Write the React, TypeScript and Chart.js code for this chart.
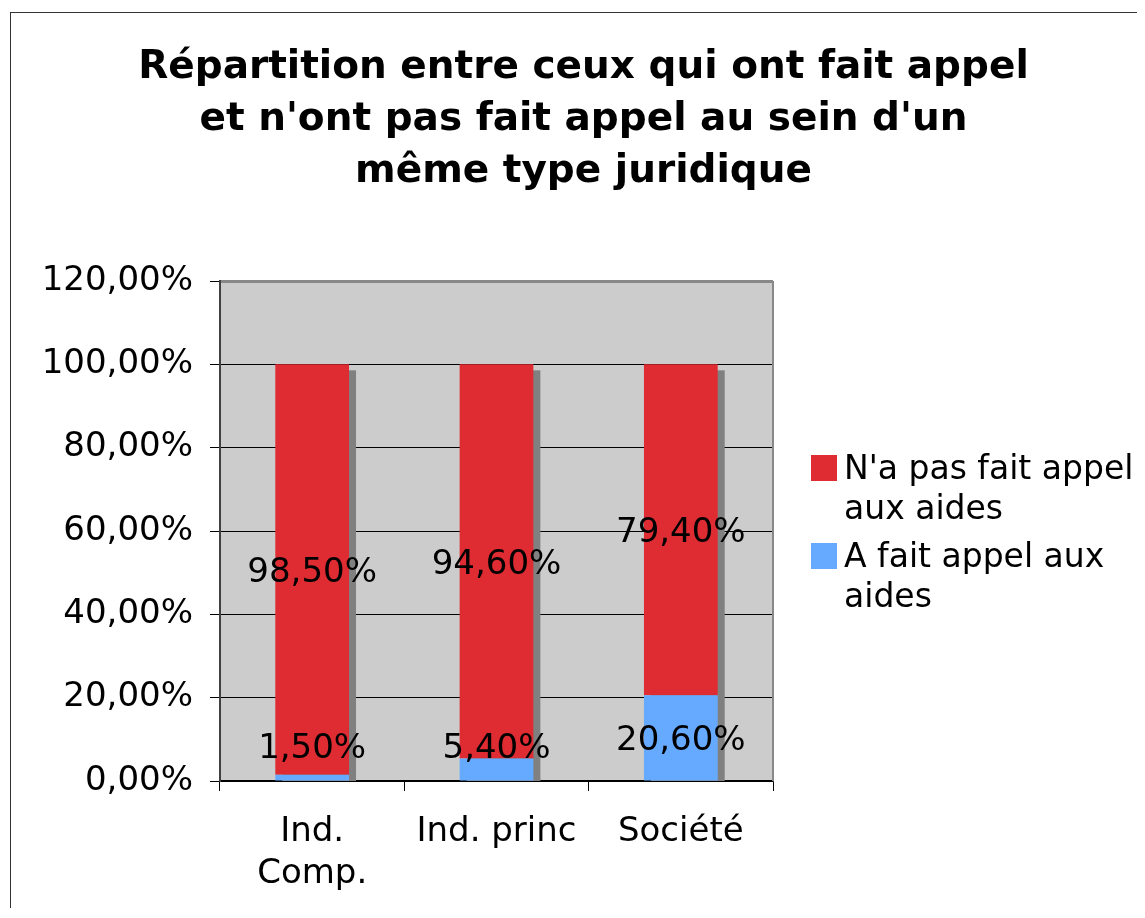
import React, { useEffect, useRef } from "react";
import { Chart, registerables } from "chart.js";

Chart.register(...registerables);

// ---- Data ----
const titleLines = [
  "Répartition entre ceux qui ont fait appel",
  "et n'ont pas fait appel au sein d'un",
  "même type juridique",
];
const categories: (string | string[])[] = [["Ind.", "Comp."], "Ind. princ", "Société"];
const seriesAppel = [1.5, 5.4, 20.6];
const seriesNonAppel = [98.5, 94.6, 79.4];
const labelAppel = "A fait appel aux aides";
const labelNonAppel = "N'a pas fait appel aux aides";
const yMin = 0;
const yMax = 120;
const yStep = 20;

// ---- Styles ----
const FONT = "'DejaVu Sans', Verdana, sans-serif";
const RED = "#de2c32";
const BLUE = "#66aaff";
const PLOT_BG = "#cccccc";
const SHADOW = "#808080";
const W = 1137;
const H = 900;
const TXT = 34;

const fmt = (v: number) => v.toFixed(2).replace(".", ",") + "%";

function wrap(ctx: CanvasRenderingContext2D, text: string, maxW: number): string[] {
  const words = text.split(" ");
  const lines: string[] = [];
  let cur = "";
  for (const w of words) {
    const test = cur ? cur + " " + w : w;
    if (ctx.measureText(test).width > maxW && cur) {
      lines.push(cur);
      cur = w;
    } else cur = test;
  }
  if (cur) lines.push(cur);
  return lines;
}

const decor = {
  id: "decor",
  beforeDraw(chart: any) {
    const { ctx, chartArea: a } = chart;
    ctx.save();
    ctx.strokeStyle = "#333";
    ctx.lineWidth = 1;
    ctx.strokeRect(2.5, 4.5, chart.width + 40, chart.height + 40);
    ctx.fillStyle = PLOT_BG;
    ctx.fillRect(a.left, a.top, a.right - a.left, a.bottom - a.top);
    ctx.restore();
  },
  beforeDatasetsDraw(chart: any) {
    const { ctx, chartArea: a } = chart;
    const topMeta = chart.getDatasetMeta(chart.data.datasets.length - 1);
    const base = chart.scales.y.getPixelForValue(0);
    ctx.save();
    ctx.beginPath();
    ctx.rect(a.left, a.top, a.right - a.left, a.bottom - a.top);
    ctx.clip();
    ctx.fillStyle = SHADOW;
    topMeta.data.forEach((el: any) => {
      const p = el.getProps(["x", "y", "width"], true);
      ctx.fillRect(p.x - p.width / 2 + 7, p.y + 6, p.width, base - p.y - 6);
    });
    ctx.restore();
    ctx.save();
    ctx.strokeStyle = "#888";
    ctx.lineWidth = 2;
    ctx.beginPath();
    ctx.moveTo(a.right, a.top);
    ctx.lineTo(a.right, a.bottom);
    ctx.stroke();
    ctx.restore();
  },
  afterDatasetsDraw(chart: any) {
    const { ctx, chartArea: a } = chart;
    ctx.save();
    ctx.font = `${TXT}px ${FONT}`;
    ctx.fillStyle = "#000";
    ctx.textAlign = "center";
    ctx.textBaseline = "alphabetic";
    chart.data.datasets.forEach((ds: any, di: number) => {
      const meta = chart.getDatasetMeta(di);
      meta.data.forEach((el: any, i: number) => {
        const p = el.getProps(["x", "y", "base"], true);
        let cy = (p.y + p.base) / 2;
        cy = Math.min(cy, a.bottom - 35);
        ctx.fillText(fmt(ds.data[i]), p.x, cy + 12.4);
      });
    });
    ctx.restore();
  },
  afterDraw(chart: any) {
    const { ctx, chartArea: a } = chart;
    ctx.save();
    ctx.font = `33px ${FONT}`;
    ctx.textAlign = "left";
    ctx.textBaseline = "alphabetic";
    const boxX = a.right + 38;
    const textX = boxX + 26 + 7;
    let y = a.top + 198;
    const ds = chart.data.datasets;
    const order = [ds.length - 1, 0];
    order.forEach((di) => {
      const d = ds[di];
      ctx.fillStyle = d.backgroundColor;
      ctx.fillRect(boxX, y - 24, 26, 26);
      ctx.fillStyle = "#000";
      const lines = wrap(ctx, d.label, chart.width - textX - 4);
      lines.forEach((ln) => {
        ctx.fillText(ln, textX, y);
        y += 40;
      });
      y += 8;
    });
    ctx.restore();
  },
};

export default function App() {
  const ref = useRef<HTMLCanvasElement | null>(null);
  useEffect(() => {
    if (!ref.current) return;
    const chart = new Chart(ref.current, {
      type: "bar",
      data: {
        labels: categories as any,
        datasets: [
          {
            label: labelAppel,
            data: seriesAppel,
            backgroundColor: BLUE,
            borderWidth: 0,
            barPercentage: 0.4,
            categoryPercentage: 1.0,
            xAxisID: "x",
            yAxisID: "y",
          },
          {
            label: labelNonAppel,
            data: seriesNonAppel,
            backgroundColor: RED,
            borderWidth: 0,
            barPercentage: 0.4,
            categoryPercentage: 1.0,
            xAxisID: "x",
            yAxisID: "y",
          },
        ],
      },
      options: {
        responsive: false,
        animation: false,
        devicePixelRatio: 1,
        layout: { padding: { left: 14, right: 0, top: 0, bottom: 0 } },
        plugins: {
          legend: { display: false },
          tooltip: { enabled: false },
          title: {
            display: true,
            text: titleLines,
            color: "#000",
            font: { family: FONT, size: 39, weight: "bold", lineHeight: 52 / 39 },
            padding: { top: 34, bottom: 83 },
          },
        },
        scales: {
          x: {
            stacked: true,
            offset: true,
            grid: {
              display: true,
              drawOnChartArea: false,
              drawTicks: true,
              tickLength: 10,
              tickColor: "#000",
              offset: true,
            },
            border: { display: true, color: "#000", width: 1.5 },
            ticks: {
              color: "#000",
              font: { family: FONT, size: TXT, lineHeight: 42 / TXT },
              padding: 20,
              maxRotation: 0,
              autoSkip: false,
            },
            afterFit: (s: any) => {
              s.height = H - 773;
            },
          },
          y: {
            stacked: true,
            min: yMin,
            max: yMax,
            ticks: {
              stepSize: yStep,
              callback: (v: any) => fmt(Number(v)),
              color: "#000",
              font: { family: FONT, size: TXT },
              padding: 17,
            },
            grid: {
              color: (c: any) => (c.tick && c.tick.value === yMax ? "#888" : "#000"),
              lineWidth: (c: any) => (c.tick && c.tick.value === yMax ? 3 : 1),
              tickColor: "#000",
              tickLength: 10,
              tickWidth: 1,
            },
            border: { color: "#404040", width: 2 },
            afterFit: (s: any) => {
              s.width = 198;
            },
          },
          legendSpace: {
            type: "linear",
            position: "right",
            display: true,
            grid: { display: false, drawTicks: false },
            ticks: { display: false },
            border: { display: false },
            afterFit: (s: any) => {
              s.width = 372;
            },
          },
        },
      } as any,
      plugins: [decor],
    });
    return () => chart.destroy();
  }, []);
  return (
    <div style={{ width: W, height: H, overflow: "hidden" }}>
      <canvas ref={ref} width={W} height={H} style={{ display: "block", width: W, height: H }} />
    </div>
  );
}
